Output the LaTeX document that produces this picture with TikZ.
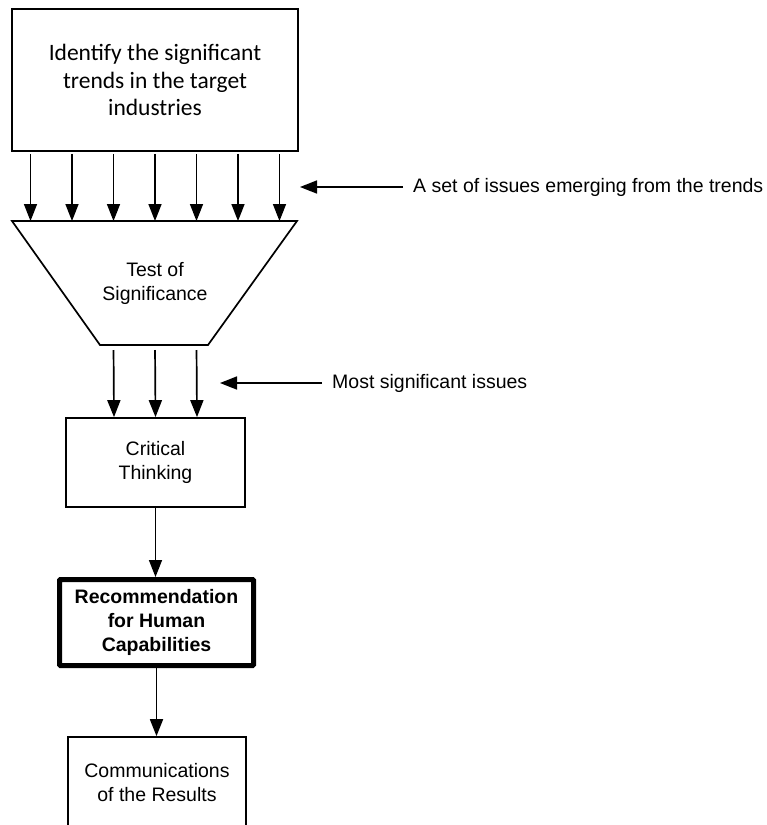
\documentclass[tikz,border=0pt]{standalone}
\usepackage{fontspec}
\setmainfont{Liberation Sans}
\newfontfamily\calibrifont{Carlito}
\usetikzlibrary{arrows.meta}

\begin{document}
\begin{tikzpicture}[x=1pt, y=-1pt,
  box/.style={draw, line width=1.7pt, align=center, inner sep=0pt,
    font=\fontsize{19.5}{24}\selectfont},
  arr/.style={line width=1.7pt, -{Triangle[length=17pt,width=13pt]}},
  note/.style={anchor=west, inner xsep=10pt, inner ysep=0pt,
    font=\fontsize{19.5}{24}\selectfont}]

  \useasboundingbox (0,0) rectangle (767,825);

  % trends box
  \node[box, minimum width=286pt, minimum height=142pt,
    font=\calibrifont\fontsize{23.5}{27.5}\selectfont] (trends) at (155,80)
    {Identify the significant\\trends in the target\\industries};

  % funnel -- test of significance
  \coordinate (ftop) at (155,221);
  \coordinate (fbot) at (155,345);
  \draw[line width=1.7pt] (12,221) -- (297,221) -- (208,345) -- (100,345) -- cycle;
  \node[align=center, font=\fontsize{19.5}{24}\selectfont] (test) at (155,283)
    {Test of\\Significance};

  \foreach \k in {-3,...,3}
    \draw[arr, shorten <=2pt] ([xshift=\k*41.5pt]trends.south) -- ([xshift=\k*41.5pt]ftop);

  % critical thinking
  \node[box, minimum width=179pt, minimum height=89pt] (critical) at (155.5,462.5)
    {Critical\\Thinking};

  \foreach \k in {-1,0,1}
    \draw[arr, shorten <=5pt] ([xshift=\k*41.5pt]fbot) -- ([xshift=\k*41.5pt]critical.north);

  % recommendation -- thick frame
  \node[box, line width=5pt, rounded corners=1pt, minimum width=194pt, minimum height=86pt,
    font=\bfseries\fontsize{19.5}{24}\selectfont] (rec) at (156.5,622.5)
    {Recommendation\\for Human\\Capabilities};
  \draw[arr] (critical.south) -- (critical.south |- rec.north);

  % communications
  \node[box, minimum width=178pt, minimum height=92pt] (comm) at (157,783)
    {Communications\\of the Results};
  \draw[arr] (rec.south) -- (rec.south |- comm.north);

  % side notes
  \node[note] (issues) at (403,187) {A set of issues emerging from the trends};
  \coordinate (issuestip) at (300,187);
  \draw[arr] (issues.west) -- (issuestip);

  \node[note] (most) at (322,383) {Most significant issues};
  \coordinate (mosttip) at (220,383);
  \draw[arr] (most.west) -- (mosttip);

\end{tikzpicture}
\end{document}
